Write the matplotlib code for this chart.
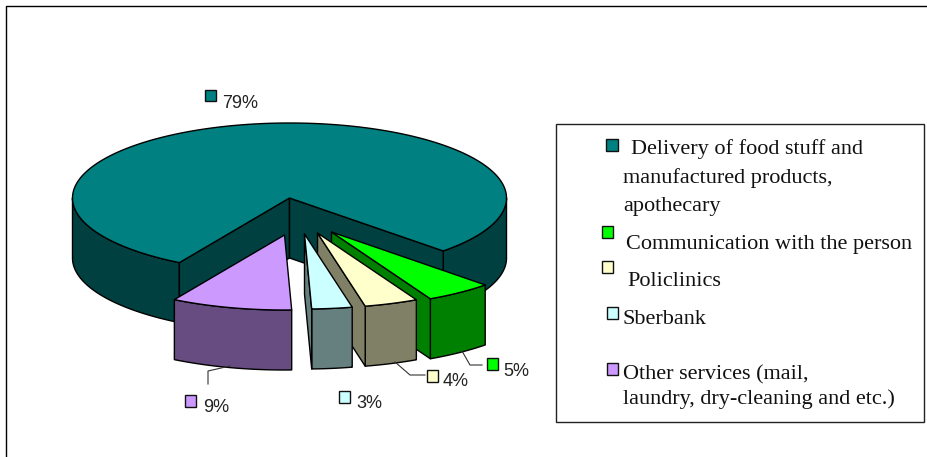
import numpy as np
import matplotlib
matplotlib.use('Agg')
import matplotlib.pyplot as plt
from matplotlib.patches import Polygon, Rectangle

# data
categories = ['Delivery of food stuff and\nmanufactured products,\napothecary',
              'Communication with the person', 'Policlinics', 'Sberbank',
              'Other services (mail,\nlaundry, dry-cleaning and etc.)']
shares = [79, 5, 4, 3, 9]
share_labels = ['79%', '5%', '4%', '3%', '9%']
top_colors = ['#008080', '#00FF00', '#FFFFCC', '#CCFFFF', '#CC99FF']
side_colors = ['#004040', '#008000', '#808066', '#668080', '#664C80']

# pie geometry, in pixels of the figure
CENTER = (289.5, 198)
RX, RY = 217, 75
DEPTH = 60
FIRST_ANGLE = 210.5  # clockwise from 12 o'clock
EXPLODE = [(0, 0), (42, 34), (28, 35), (15, 36), (-5, 37)]


def rim(a0, a1, cx, cy):
    t = np.radians(np.linspace(a0, a1, 200))
    return np.column_stack((cx + RX * np.sin(t), cy - RY * np.cos(t)))


def patch(ax, pts, color):
    ax.add_patch(Polygon(pts, closed=True, facecolor=color, edgecolor='black',
                         linewidth=1.0, joinstyle='round'))


def draw_main(ax, a0, a1, top, side):
    cx, cy = CENTER
    apex = np.array([[cx, cy]])
    down = np.array([0, DEPTH])
    # outer wall, only the parts turned to the viewer
    left = rim(270, a0, cx, cy)
    patch(ax, np.vstack((left, (left + down)[::-1])), side)
    right = rim(90, a1 - 360, cx, cy)
    patch(ax, np.vstack((right, (right + down)[::-1])), side)
    # the two cut faces
    for a in (a0, a1):
        p = rim(a, a, cx, cy)[:1]
        patch(ax, np.vstack((apex, p, p + down, apex + down)), side)
    patch(ax, np.vstack((apex, rim(a0, a1, cx, cy))), top)


def draw_slice(ax, a0, a1, offset, top, side):
    cx, cy = CENTER[0] + offset[0], CENTER[1] + offset[1]
    apex = np.array([[cx, cy]])
    down = np.array([0, DEPTH])
    arc = rim(a0, a1, cx, cy)
    patch(ax, np.vstack((arc, (arc + down)[::-1])), side)
    if a1 < 180:
        p = arc[-1:]
        patch(ax, np.vstack((apex, p, p + down, apex + down)), side)
    patch(ax, np.vstack((apex, arc)), top)


def marker(ax, x, y, color, size=11.5):
    ax.add_patch(Rectangle((x, y), size, size, facecolor=color, edgecolor='#111111',
                           linewidth=1.0, zorder=5))


def main():
    plt.rcParams['font.family'] = ['Liberation Sans', 'DejaVu Sans']
    fig = plt.figure(figsize=(9.28, 4.57), dpi=100)
    ax = fig.add_axes([0, 0, 1, 1])
    ax.set_xlim(0, 928)
    ax.set_ylim(457, 0)
    ax.axis('off')

    # page frame, left and top only
    ax.plot([6, 6, 928], [457, 6, 6], color='black', lw=1.0)

    edges = FIRST_ANGLE + np.cumsum([0] + [s * 3.6 for s in shares])
    draw_main(ax, edges[0], edges[1], top_colors[0], side_colors[0])
    for i in range(1, 5):
        a0, a1 = edges[i] - 360, edges[i + 1] - 360
        draw_slice(ax, a0, a1, EXPLODE[i], top_colors[i], side_colors[i])

    # leader lines
    ax.plot([462, 470, 482], [351, 365, 365], color='#333333', lw=0.8)
    ax.plot([395, 410, 425], [362, 375, 375], color='#333333', lw=0.8)
    ax.plot([230, 208, 208], [366, 371, 384], color='#333333', lw=0.8)

    # value labels
    label_pos = [(222, 103), (503, 371), (443, 382), (356, 403), (203, 407)]
    marker_pos = [(205, 89.5), (487, 358), (427, 370), (339, 391), (185, 395)]
    for i in range(5):
        marker(ax, *marker_pos[i], top_colors[i])
        ax.text(*label_pos[i], share_labels[i], fontsize=13, color='#222222',
                ha='left', va='center')

    # legend box
    ax.add_patch(Rectangle((556.5, 123.5), 367.5, 298.5, facecolor='white',
                           edgecolor='#222222', linewidth=1.0, zorder=4))
    serif = ['Liberation Serif', 'DejaVu Serif']
    kw = dict(fontsize=16, family=serif, color='#111111', ha='left', va='center',
              zorder=6)
    first = categories[0].split('\n')
    last = categories[4].split('\n')
    ax.text(631, 149, first[0], **kw)
    ax.text(623, 178, first[1], **kw)
    ax.text(623, 207, first[2], **kw)
    ax.text(626, 244, categories[1], **kw)
    ax.text(627, 281, categories[2], **kw)
    ax.text(623, 319, categories[3], **kw)
    ax.text(623, 375, last[0], **kw)
    ax.text(623, 399, last[1], **kw)
    legend_markers = [(606.5, 139), (602, 226), (602, 261), (607, 307), (607, 363)]
    for i in range(5):
        marker(ax, *legend_markers[i], top_colors[i])

    fig.savefig('out.png', dpi=100)


if __name__ == '__main__':
    main()
